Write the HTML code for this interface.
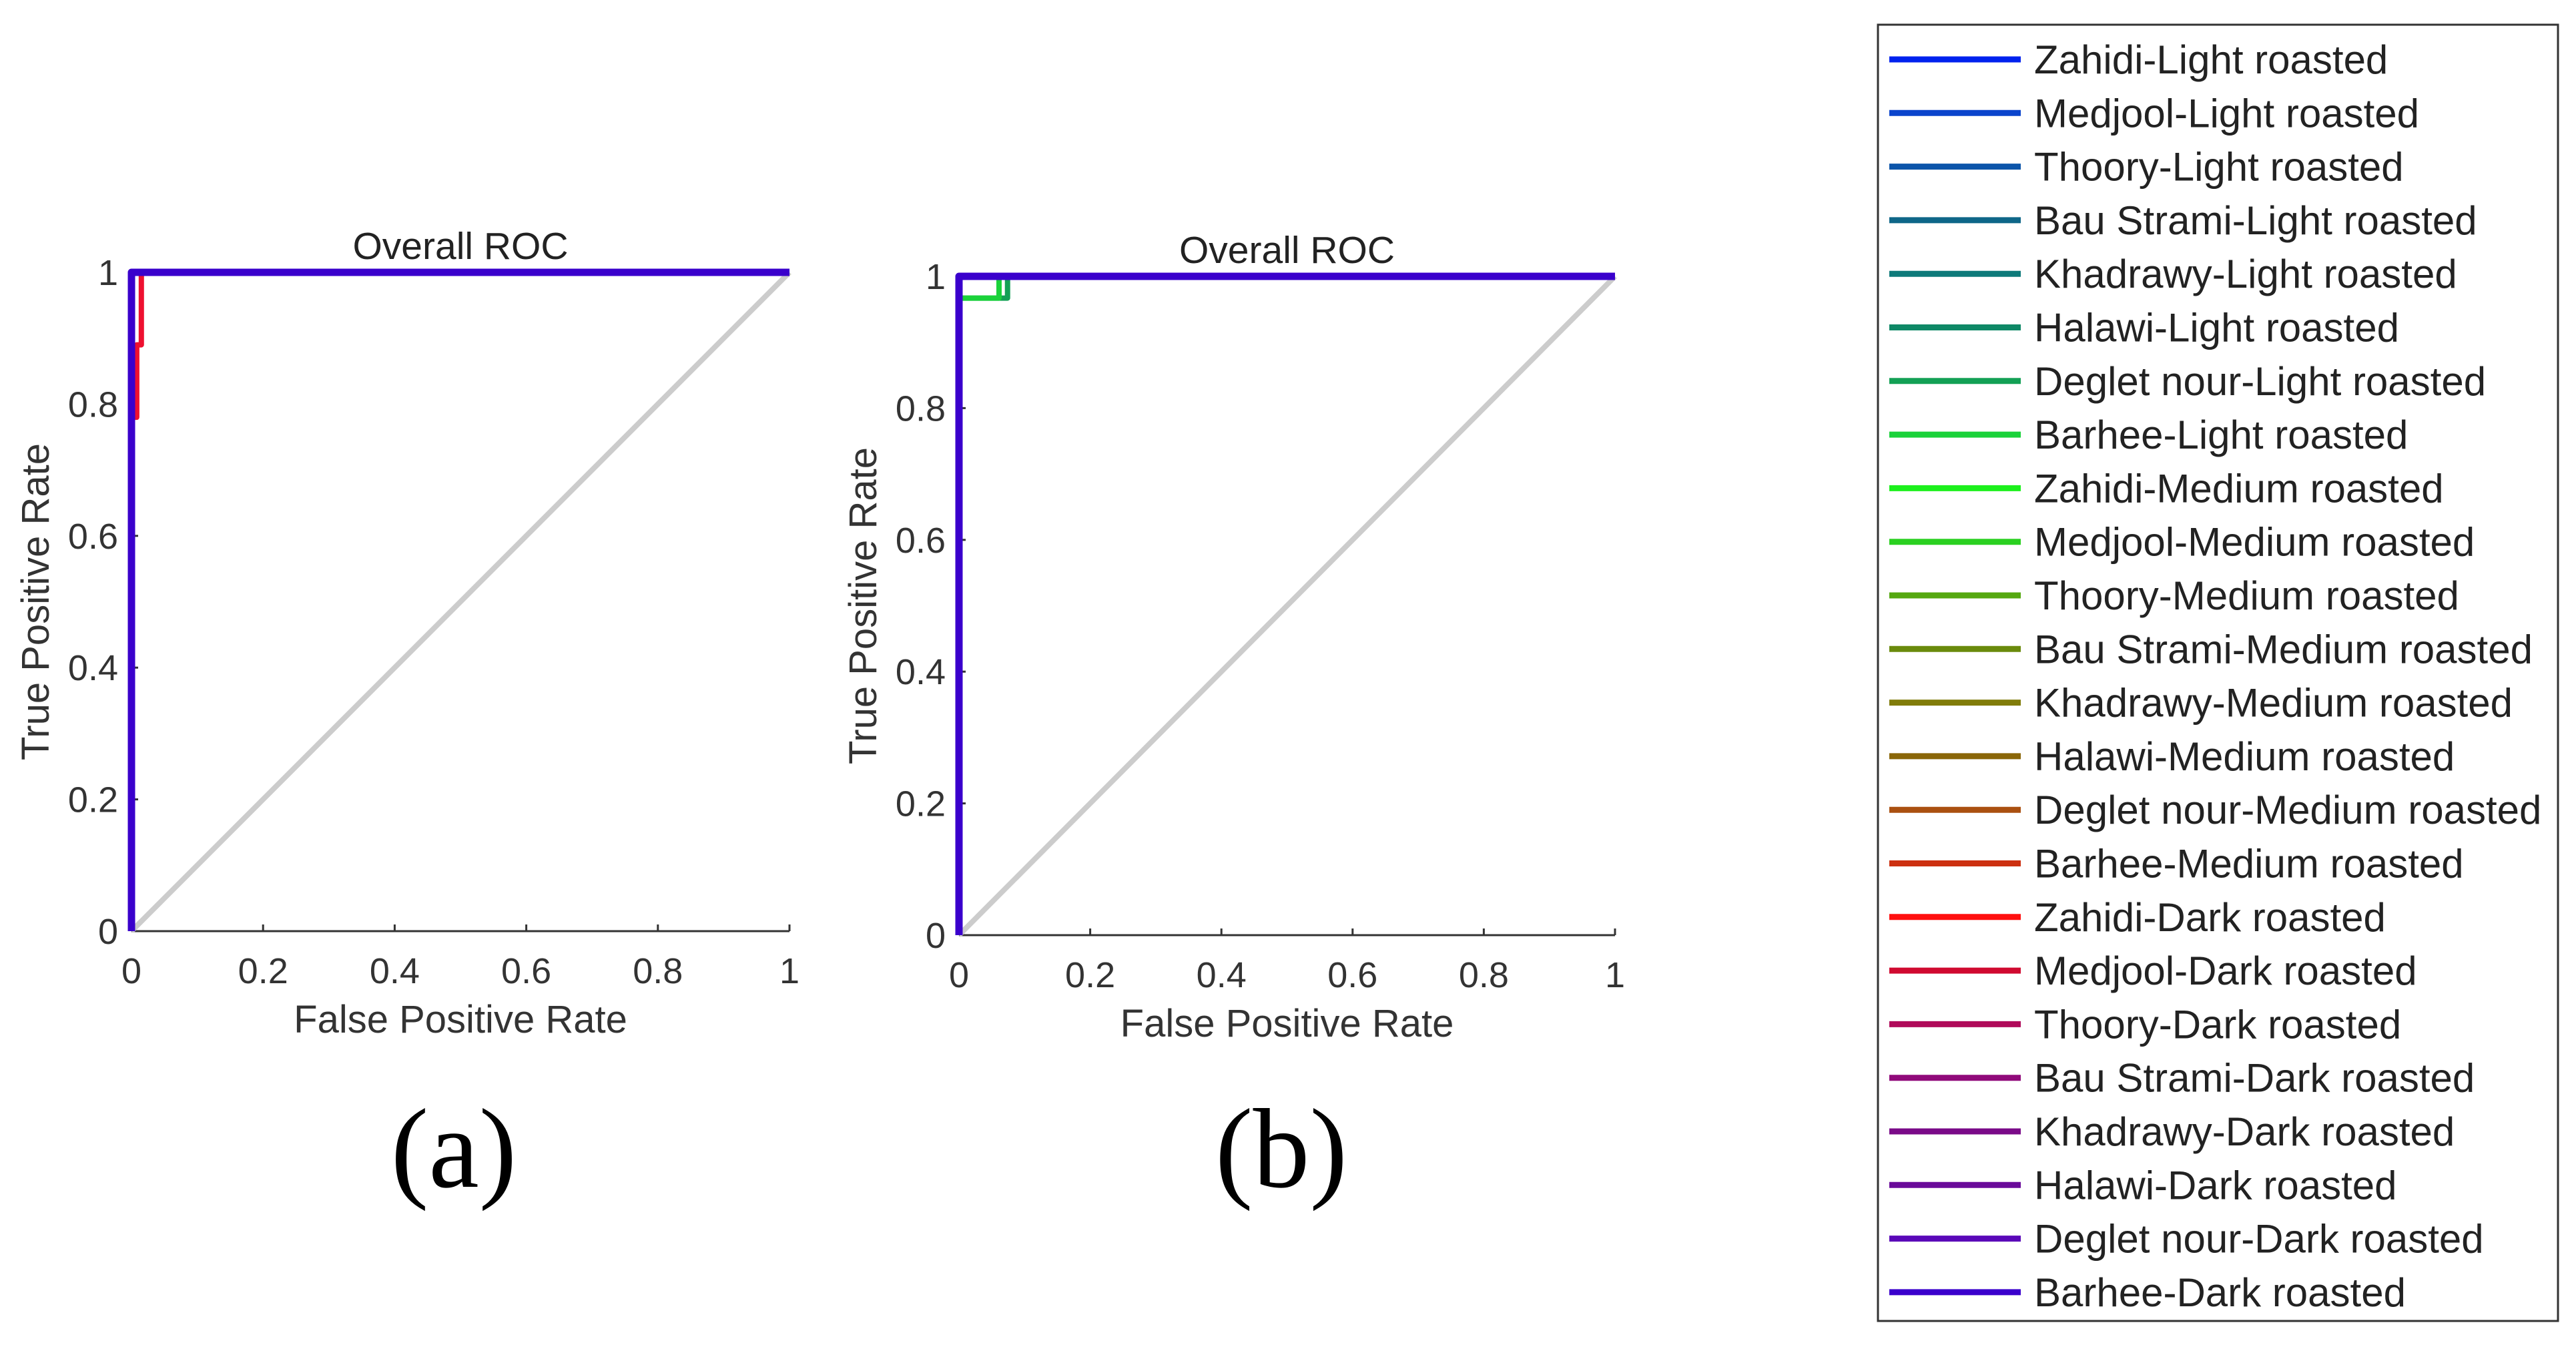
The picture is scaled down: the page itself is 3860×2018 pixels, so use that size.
<!DOCTYPE html>
<html><head><meta charset="utf-8"><style>
html,body{margin:0;padding:0;background:#fff;}
svg{display:block;font-family:"Liberation Sans",Arial,sans-serif;}
</style></head><body>
<svg id="fig" width="3860" height="2018" viewBox="0 0 3860 2018" xmlns="http://www.w3.org/2000/svg">
<g id="plots"></g>
<g id="legend"></g>
</svg>
<script>
const ticks = [0, 0.2, 0.4, 0.6, 0.8, 1];
const tickLabels = ["0", "0.2", "0.4", "0.6", "0.8", "1"];
const seriesNames = ["Zahidi-Light roasted","Medjool-Light roasted","Thoory-Light roasted","Bau Strami-Light roasted","Khadrawy-Light roasted","Halawi-Light roasted","Deglet nour-Light roasted","Barhee-Light roasted","Zahidi-Medium roasted","Medjool-Medium roasted","Thoory-Medium roasted","Bau Strami-Medium roasted","Khadrawy-Medium roasted","Halawi-Medium roasted","Deglet nour-Medium roasted","Barhee-Medium roasted","Zahidi-Dark roasted","Medjool-Dark roasted","Thoory-Dark roasted","Bau Strami-Dark roasted","Khadrawy-Dark roasted","Halawi-Dark roasted","Deglet nour-Dark roasted","Barhee-Dark roasted"];
const seriesColors = ["#0022ee","#0a44cc","#0c55aa","#0e6688","#0e7a7a","#0e8866","#13a055","#1ad23a","#1cf01c","#2ad020","#55a810","#6a8a0c","#807c0a","#8a6608","#aa5010","#cc3010","#ff1010","#d00a30","#b00a5a","#900a7a","#7a0a88","#6a0a9a","#5a08b8","#3a00cc"];
// plot (a) curves: FPR and TPR arrays
const aRedFpr = [0, 0.008, 0.008, 0.015, 0.015];
const aRedTpr = [0.78, 0.78, 0.89, 0.89, 1];
const aBlueFpr = [0, 0, 1];
const aBlueTpr = [0, 1, 1];
// plot (b) curves
const bGreen1Fpr = [0, 0.061, 0.061];
const bGreen1Tpr = [0.967, 0.967, 1];
const bGreen2Fpr = [0, 0.074, 0.074];
const bGreen2Tpr = [0.967, 0.967, 1];
const bBlueFpr = [0, 0, 1];
const bBlueTpr = [0, 1, 1];

const NS = "http://www.w3.org/2000/svg";
function mk(tag, attrs, parent){const e=document.createElementNS(NS,tag);for(const k in attrs)e.setAttribute(k,attrs[k]);parent.appendChild(e);return e;}

function drawPlot(x0, x1, y0, y1, label, labelX, curves, nameSuffix){
  const g = mk("g", {}, document.getElementById("plots"));
  
  
  const sx = v => x0 + v*(x1-x0);
  const sy = v => y0 - v*(y0-y1);
  const t = mk("text", {x:(x0+x1)/2, y:y1-20, "font-size":57, "text-anchor":"middle", fill:"#222"}, g);
  t.textContent = "Overall ROC";
  
  
  const ax = mk("line", {x1:x0, y1:y0, x2:x1, y2:y0, stroke:"#333", "stroke-width":3}, g);
  
  
  const ay = mk("line", {x1:x0, y1:y0, x2:x0, y2:y1, stroke:"#333", "stroke-width":3}, g);
  
  
  ticks.forEach((v,i)=>{
    const tk = mk("line", {x1:sx(v), y1:y0, x2:sx(v), y2:y0-10, stroke:"#333", "stroke-width":3}, g);
    
    
    const tl = mk("text", {x:sx(v), y:y0+78, "font-size":54, "text-anchor":"middle", fill:"#333"}, g);
    tl.textContent = tickLabels[i];
    
    
    const yk = mk("line", {x1:x0, y1:sy(v), x2:x0+10, y2:sy(v), stroke:"#333", "stroke-width":3}, g);
    
    
    const yl = mk("text", {x:x0-20, y:sy(v)+19, "font-size":54, "text-anchor":"end", fill:"#333"}, g);
    yl.textContent = tickLabels[i];
    
    
  });
  const xl = mk("text", {x:(x0+x1)/2, y:y0+152, "font-size":58, "text-anchor":"middle", fill:"#333"}, g);
  xl.textContent = "False Positive Rate";
  
  
  const cy = (y0+y1)/2;
  const yt = mk("text", {x:x0-124, y:cy, "font-size":58, "text-anchor":"middle", fill:"#333", transform:`rotate(-90 ${x0-124} ${cy})`}, g);
  yt.textContent = "True Positive Rate";
  
  
  const d = mk("line", {x1:sx(0), y1:sy(0), x2:sx(1), y2:sy(1), stroke:"#cccccc", "stroke-width":8}, g);
  
  
  curves.forEach(c=>{
    const pts = c.fpr.map((f,i)=>sx(f)+","+sy(c.tpr[i])).join(" ");
    const p = mk("polyline", {points:pts, fill:"none", stroke:c.color, "stroke-width":c.w, "stroke-linejoin":"round"}, g);
    
    
  });
  const lb = mk("text", {x:labelX, y:1778, "font-size":170, "text-anchor":"middle", fill:"#000", "font-family":"Liberation Serif, serif"}, document.getElementById("plots"));
  lb.textContent = label;
  
  
}

drawPlot(197, 1183, 1395, 408, "(a)", 680, [
  {fpr:aRedFpr, tpr:aRedTpr, color:"#ee1030", w:8, name:"medjool-dark-curve"},
  {fpr:aBlueFpr, tpr:aBlueTpr, color:"#3a00cc", w:11, name:"barhee-dark-curve"}
], "a");
drawPlot(1437, 2420, 1401, 414, "(b)", 1920, [
  {fpr:bGreen2Fpr, tpr:bGreen2Tpr, color:"#13a055", w:8, name:"deglet-light-curve"},
  {fpr:bGreen1Fpr, tpr:bGreen1Tpr, color:"#1ad23a", w:8, name:"barhee-light-curve"},
  {fpr:bBlueFpr, tpr:bBlueTpr, color:"#3a00cc", w:11, name:"barhee-dark-curve"}
], "b");

const lg = document.getElementById("legend");
const box = mk("rect", {x:2814, y:37, width:1019, height:1942, fill:"#fff", stroke:"#333", "stroke-width":3}, lg);


seriesNames.forEach((n,i)=>{
  const y = 89 + i*80.3;
  const e = mk("g", {}, lg);
  
  
  mk("line", {x1:2831, y1:y, x2:3028, y2:y, stroke:seriesColors[i], "stroke-width":9}, e);
  const t = mk("text", {x:3048, y:y+21, "font-size":60, fill:"#222"}, e);
  t.textContent = n;
});
</script>
</body></html>
